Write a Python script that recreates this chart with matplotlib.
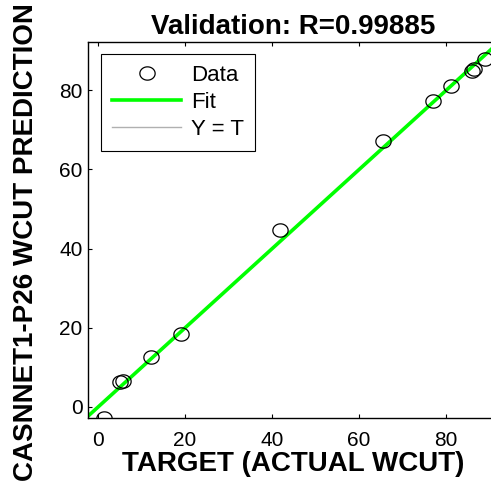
import numpy as np
import matplotlib
matplotlib.use("Agg")
import matplotlib.pyplot as plt
from matplotlib.path import Path

# Validation targets and network outputs
target = [1.4, 5.1, 5.7, 12.2, 19.1, 41.8, 65.5, 77.0, 81.1, 86.0, 86.4, 89.0]
output = [-2.8, 6.3, 6.6, 12.7, 18.5, 44.7, 67.2, 77.3, 81.1, 84.8, 85.4, 87.9]
r_value = 0.99885
xticks = [0, 20, 40, 60, 80]
yticks = [0, 20, 40, 60, 80]
xlims = (-2.3, 92.2)
ylims = (-2.8, 92.2)

plt.rcParams['font.family'] = ['Liberation Sans', 'DejaVu Sans']

fig = plt.figure(figsize=(4.91, 4.83), dpi=100)
ax = fig.add_axes([88 / 491, 65 / 483, 411 / 491, 376 / 483])

t = np.array(target)
y = np.array(output)
slope, intercept = np.polyfit(t, y, 1)
xs = np.array(xlims)

# slightly flattened open circle marker
theta = np.linspace(0, 2 * np.pi, 64)
ring = Path(np.column_stack([np.cos(theta), 0.87 * np.sin(theta)]), closed=True)

ax.plot(t, y, linestyle='none', marker=ring, mfc='none', mec='black', ms=11,
        mew=0.9, label='Data', zorder=3)
ax.plot(xs, slope * xs + intercept, color='#00ff00', lw=2.6, label='Fit', zorder=2)
ax.plot(xs, xs, color='#b0b0b0', lw=1.0, label='Y = T', zorder=1)

ax.set_xlim(xlims)
ax.set_ylim(ylims)
ax.set_xticks(xticks)
ax.set_yticks(yticks)
ax.tick_params(direction='in', length=3, width=0.8, top=True, right=True,
               labelsize=15)
ax.tick_params(axis='x', pad=9)
ax.tick_params(axis='y', pad=4)
for s in ax.spines.values():
    s.set_linewidth(1.0)

ax.set_title(f'Validation: R={r_value}', fontsize=20, fontweight='bold', pad=6)
ax.set_xlabel('TARGET (ACTUAL WCUT)', fontsize=20, fontweight='bold', labelpad=1)
ax.set_ylabel('CASNNET1-P26 WCUT PREDICTION', fontsize=20, fontweight='bold')
ax.yaxis.set_label_coords(-0.119, 0.468)

leg = ax.legend(loc='upper left', bbox_to_anchor=(13 / 411, 1 - 12 / 376), fontsize=16,
                frameon=True, fancybox=False, edgecolor='black', framealpha=1,
                handlelength=3.1, handletextpad=0.45, borderpad=0.5,
                labelspacing=0.27, borderaxespad=0)
leg.get_frame().set_linewidth(0.8)

fig.savefig('out.png', dpi=100)
